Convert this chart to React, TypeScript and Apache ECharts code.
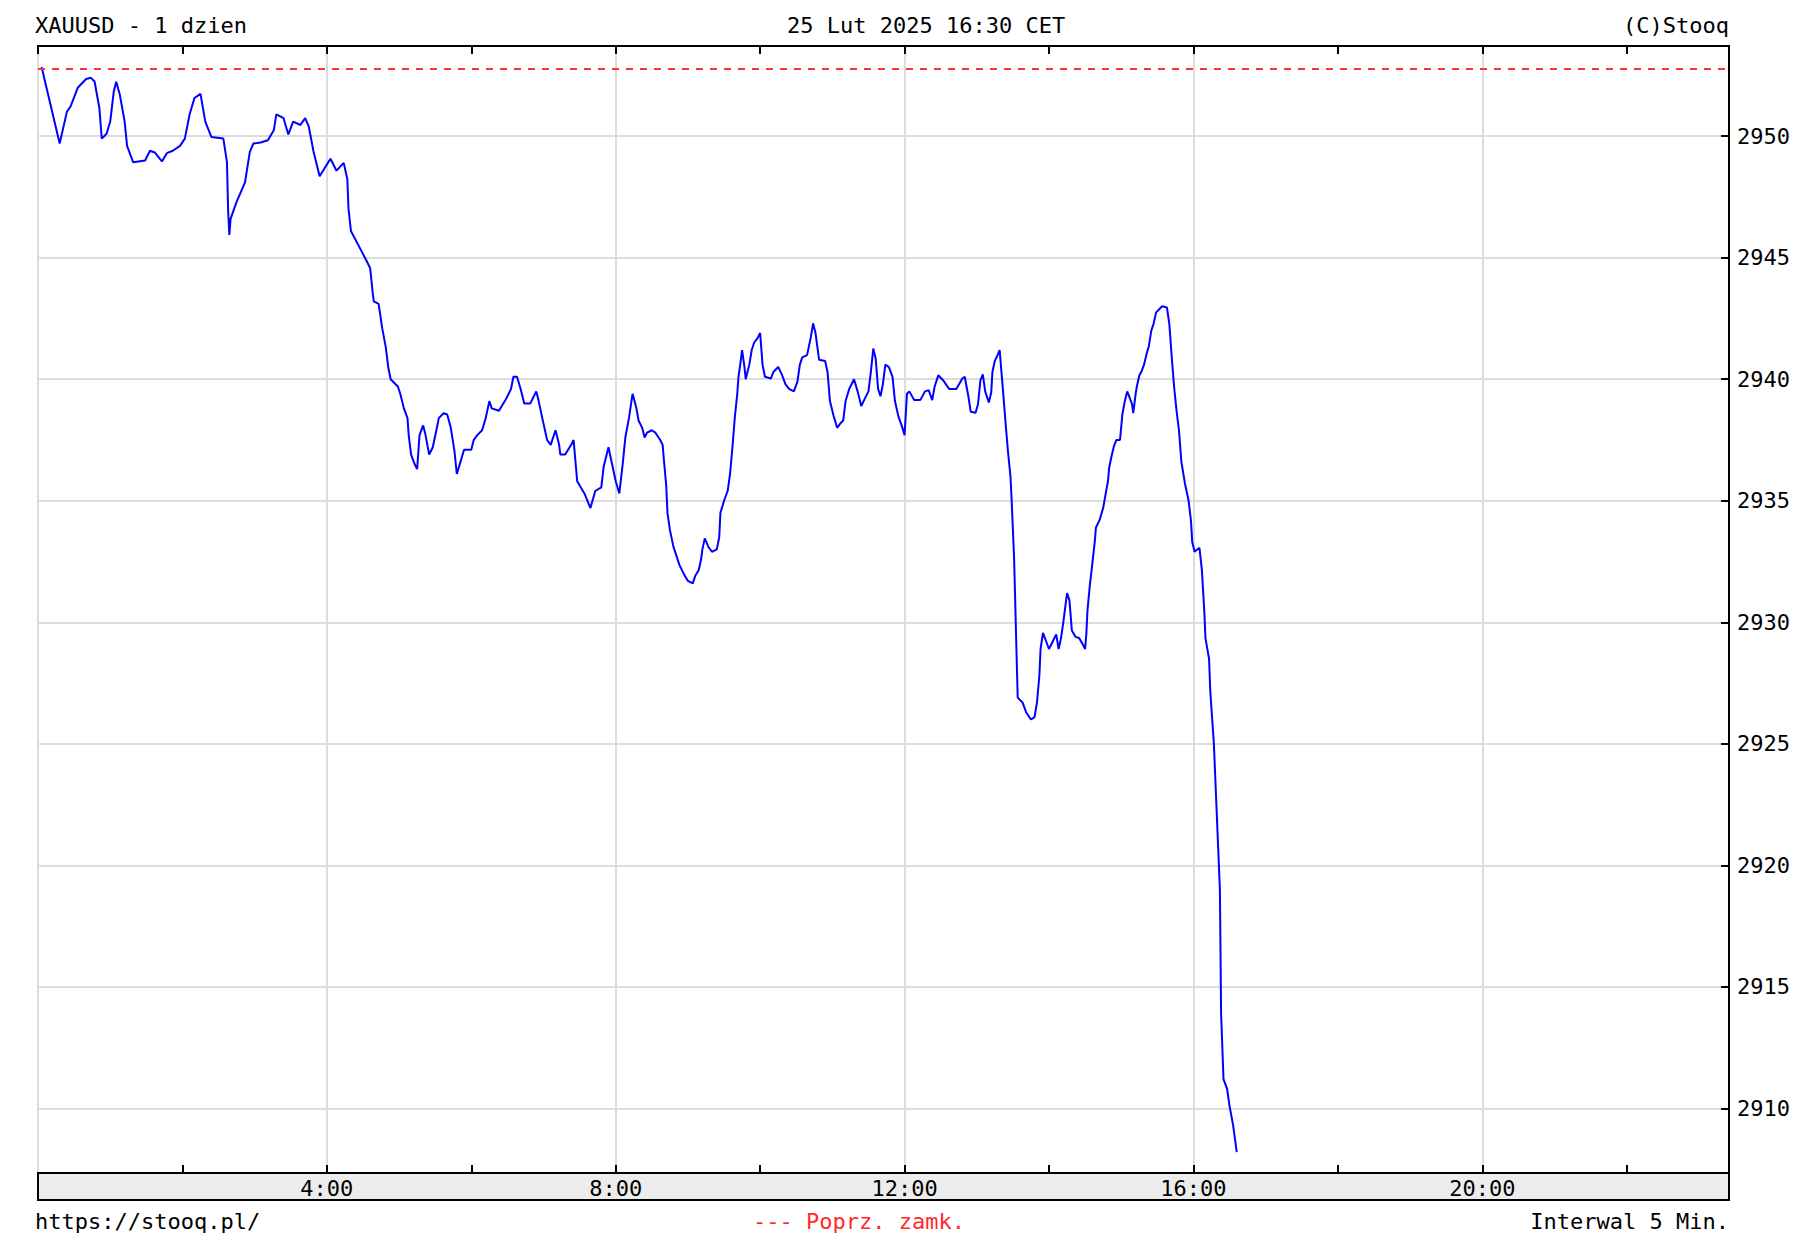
import React, { useEffect, useRef } from "react";
import * as echarts from "echarts";

// ---- data ----
const headerTitle = "XAUUSD - 1 dzien";
const headerDate = "25 Lut 2025 16:30 CET";
const headerCopy = "(C)Stooq";
const footerUrl = "https://stooq.pl/";
const footerLegend = "--- Poprz. zamk.";
const footerInterval = "Interwal 5 Min.";

const prevClose = 2952.76;

// minutes after 0:00
const priceMinutes = [
  3, 18, 24, 27, 33, 40, 44, 47, 51, 53, 57, 60, 63, 65, 68, 72, 74, 79, 89, 93,
  97, 103, 107, 112, 118, 122, 126, 130, 135, 139, 144, 154, 157, 158, 159, 160, 165, 172, 176, 179,
  185, 191, 196, 198, 204, 208, 212, 218, 222, 225, 229, 234, 243, 248, 254, 257, 258, 260, 269, 274,
  276, 278, 279, 283, 286, 289, 291, 293, 299, 301, 304, 307, 308, 310, 313, 315, 317, 320, 322, 325,
  328, 331, 333, 337, 340, 343, 346, 348, 351, 354, 360, 362, 365, 369, 372, 375, 377, 383, 389, 393,
  395, 398, 401, 404, 409, 414, 416, 419, 423, 426, 430, 433, 434, 438, 443, 445, 448, 454, 459, 463,
  468, 470, 474, 477, 480, 483, 486, 488, 491, 494, 497, 499, 502, 504, 506, 510, 513, 517, 519, 520,
  522, 523, 525, 528, 533, 537, 540, 544, 546, 549, 551, 552, 554, 557, 560, 564, 566, 567, 570, 573,
  575, 577, 579, 581, 582, 584, 585, 587, 588, 591, 593, 595, 598, 600, 602, 604, 609, 611, 615, 618,
  621, 624, 628, 631, 633, 635, 639, 642, 644, 646, 649, 654, 656, 658, 661, 664, 667, 669, 671, 674,
  678, 681, 684, 687, 690, 692, 694, 696, 698, 700, 702, 704, 707, 710, 712, 715, 718, 720, 722, 724,
  728, 733, 737, 740, 743, 745, 748, 752, 757, 763, 768, 770, 773, 775, 779, 781, 783, 785, 787, 790,
  792, 793, 795, 797, 799, 800, 802, 804, 806, 808, 809, 811, 813, 814, 818, 821, 825, 828, 830, 832,
  833, 835, 837, 840, 843, 846, 848, 850, 852, 855, 857, 859, 862, 865, 868, 870, 871, 872, 874, 876,
  878, 879, 882, 885, 887, 889, 890, 892, 894, 896, 899, 901, 903, 905, 907, 909, 910, 912, 913, 915,
  917, 919, 921, 923, 925, 927, 929, 932, 934, 938, 940, 942, 944, 946, 948, 950, 953, 956, 958, 959,
  961, 963, 965, 967, 969, 970, 973, 974, 977, 979, 982, 983, 985, 988, 990, 993, 996,
];

const priceValues = [
  2952.85, 2949.7, 2951.0, 2951.22, 2951.99, 2952.35, 2952.4, 2952.25, 2951.15, 2949.9, 2950.1, 2950.6, 2951.85, 2952.24, 2951.7, 2950.6, 2949.6, 2948.93, 2949.0, 2949.4,
  2949.33, 2948.96, 2949.3, 2949.4, 2949.6, 2949.9, 2950.9, 2951.57, 2951.74, 2950.6, 2949.97, 2949.9, 2948.93, 2946.9, 2945.94, 2946.6, 2947.3, 2948.1, 2949.35, 2949.7,
  2949.74, 2949.83, 2950.25, 2950.9, 2950.74, 2950.07, 2950.6, 2950.46, 2950.74, 2950.39, 2949.35, 2948.35, 2949.07, 2948.58, 2948.9, 2948.24, 2947.0, 2946.1, 2945.25, 2944.77,
  2944.56, 2943.6, 2943.2, 2943.1, 2942.1, 2941.3, 2940.5, 2940.0, 2939.7, 2939.4, 2938.8, 2938.4, 2937.7, 2936.9, 2936.5, 2936.3, 2937.7, 2938.1, 2937.7, 2936.9,
  2937.2, 2937.9, 2938.4, 2938.6, 2938.55, 2938.0, 2937.05, 2936.1, 2936.6, 2937.1, 2937.1, 2937.5, 2937.7, 2937.9, 2938.4, 2939.1, 2938.8, 2938.7, 2939.2, 2939.6,
  2940.1, 2940.1, 2939.6, 2939.0, 2939.0, 2939.5, 2939.1, 2938.4, 2937.5, 2937.3, 2937.9, 2937.3, 2936.9, 2936.9, 2937.3, 2937.5, 2935.8, 2935.3, 2934.7, 2935.4,
  2935.55, 2936.4, 2937.2, 2936.5, 2935.8, 2935.3, 2936.6, 2937.6, 2938.4, 2939.4, 2938.85, 2938.3, 2938.0, 2937.6, 2937.8, 2937.9, 2937.8, 2937.5, 2937.3, 2936.7,
  2935.6, 2934.5, 2933.8, 2933.1, 2932.35, 2931.95, 2931.7, 2931.6, 2931.9, 2932.15, 2932.6, 2933.0, 2933.45, 2933.1, 2932.9, 2933.0, 2933.5, 2934.5, 2935.0, 2935.4,
  2936.1, 2937.2, 2938.45, 2939.4, 2940.1, 2940.8, 2941.2, 2940.5, 2940.0, 2940.6, 2941.2, 2941.5, 2941.7, 2941.9, 2940.6, 2940.1, 2940.03, 2940.3, 2940.5, 2940.2,
  2939.8, 2939.6, 2939.5, 2939.9, 2940.6, 2940.9, 2940.99, 2941.7, 2942.3, 2941.9, 2940.8, 2940.75, 2940.3, 2939.1, 2938.5, 2938.0, 2938.2, 2938.3, 2939.1, 2939.6,
  2940.0, 2939.5, 2938.9, 2939.2, 2939.5, 2940.3, 2941.26, 2940.85, 2939.6, 2939.3, 2939.8, 2940.6, 2940.5, 2940.1, 2939.1, 2938.45, 2938.04, 2937.7, 2939.4, 2939.5,
  2939.14, 2939.14, 2939.5, 2939.55, 2939.14, 2939.7, 2940.16, 2939.96, 2939.6, 2939.6, 2940.03, 2940.1, 2939.3, 2938.66, 2938.62, 2938.97, 2939.95, 2940.2, 2939.5, 2939.04,
  2939.45, 2940.3, 2940.76, 2940.96, 2941.2, 2940.6, 2939.4, 2938.15, 2936.98, 2936.0, 2935.0, 2932.65, 2928.8, 2926.9, 2926.7, 2926.3, 2926.0, 2926.1, 2926.7, 2927.8,
  2928.9, 2929.56, 2929.3, 2928.9, 2929.2, 2929.5, 2928.9, 2929.35, 2930.04, 2931.2, 2930.9, 2929.66, 2929.4, 2929.35, 2929.1, 2928.9, 2929.5, 2930.5, 2931.55, 2932.4,
  2933.3, 2933.9, 2934.2, 2934.7, 2935.26, 2935.8, 2936.36, 2936.84, 2937.25, 2937.5, 2937.5, 2938.56, 2939.1, 2939.5, 2939.24, 2938.97, 2938.6, 2939.4, 2939.7, 2940.14,
  2940.34, 2940.6, 2941.03, 2941.37, 2942.0, 2942.3, 2942.75, 2942.9, 2943.0, 2942.95, 2942.27, 2940.9, 2939.66, 2938.7, 2937.9, 2936.6, 2935.7, 2935.0, 2934.16, 2933.3,
  2932.9, 2932.99, 2933.06, 2932.17, 2930.5, 2929.35, 2928.5, 2927.16, 2925.0, 2922.6, 2919.0, 2913.9, 2911.2, 2910.8, 2910.1, 2909.3, 2908.2,
];

const yTickValues = [2910, 2915, 2920, 2925, 2930, 2935, 2940, 2945, 2950];
const yMin = 2907.34;
const yMax = 2953.71;
const xMin = 0;
const xMax = 1405;
const xTickStep = 120;
const xGridStep = 240;

const FONT = '"DejaVu Sans Mono", "Liberation Mono", monospace';

export default function App() {
  const ref = useRef<HTMLDivElement>(null);

  useEffect(() => {
    if (!ref.current) return;
    const chart = echarts.init(ref.current, undefined, { renderer: "svg" });
    const data = priceMinutes.map((m, i) => [m, priceValues[i]]);

    const tickStyle = { color: "#000", width: 2 };
    const grid = { color: "#dcdcdc", width: 2 };

    const option: any = {
      animation: false,
      backgroundColor: "#ffffff",
      grid: {
        left: 38,
        right: 83,
        top: 46,
        bottom: 85,
        show: true,
        borderColor: "#000",
        borderWidth: 2,
        backgroundColor: "#ffffff",
      },
      xAxis: [
        {
          type: "value",
          position: "bottom",
          min: xMin,
          max: xMax,
          interval: xTickStep,
          z: 5,
          axisLine: { show: true, onZero: false, lineStyle: tickStyle },
          axisTick: { show: true, inside: true, length: 8, lineStyle: tickStyle },
          axisLabel: {
            show: true,
            margin: 4,
            fontFamily: FONT,
            fontSize: 22,
            color: "#000",
            showMinLabel: false,
            showMaxLabel: false,
            formatter: (v: number) =>
              v > 0 && v % xGridStep === 0 ? `${v / 60}:00` : "",
          },
          splitLine: { show: false },
        },
        {
          type: "value",
          position: "top",
          min: xMin,
          max: xMax,
          interval: xTickStep,
          axisLine: { show: false },
          axisTick: { show: true, inside: true, length: 8, lineStyle: tickStyle },
          axisLabel: { show: false },
          splitLine: { show: false },
        },
        {
          type: "value",
          position: "bottom",
          min: xMin,
          max: xMax,
          interval: xGridStep,
          axisLine: { show: false },
          axisTick: { show: false },
          axisLabel: { show: false },
          splitLine: { show: true, lineStyle: grid },
        },
      ],
      yAxis: {
        type: "value",
        position: "right",
        min: yMin,
        max: yMax,
        axisLine: { show: true, onZero: false, lineStyle: tickStyle },
        axisTick: {
          show: true,
          inside: true,
          length: 8,
          lineStyle: tickStyle,
          customValues: yTickValues,
        },
        axisLabel: {
          show: true,
          margin: 8,
          fontFamily: FONT,
          fontSize: 22,
          color: "#000",
          customValues: yTickValues,
          formatter: (v: number) => String(Math.round(v)),
        },
        splitLine: { show: true, lineStyle: grid },
      },
      series: [
        {
          type: "line",
          xAxisIndex: 0,
          yAxisIndex: 0,
          data,
          showSymbol: false,
          symbol: "none",
          z: 3,
          lineStyle: { color: "#0000ff", width: 2 },
          markLine: {
            silent: true,
            symbol: ["none", "none"],
            label: { show: false },
            lineStyle: { color: "#ff3333", type: [7, 7], width: 2 },
            data: [{ yAxis: prevClose }],
          },
        },
      ],
      graphic: [
        {
          type: "rect",
          z: 1,
          shape: { x: 38, y: 1173, width: 1691, height: 27 },
          style: { fill: "#ececec", stroke: "#000", lineWidth: 2 },
        },
        {
          type: "text",
          x: 35,
          y: 25,
          style: { text: headerTitle, font: `22px ${FONT}`, fill: "#000", verticalAlign: "middle", align: "left" },
        },
        {
          type: "text",
          x: 787,
          y: 25,
          style: { text: headerDate, font: `22px ${FONT}`, fill: "#000", verticalAlign: "middle", align: "left" },
        },
        {
          type: "text",
          x: 1729,
          y: 25,
          style: { text: headerCopy, font: `22px ${FONT}`, fill: "#000", verticalAlign: "middle", align: "right" },
        },
        {
          type: "text",
          x: 35,
          y: 1221,
          style: { text: footerUrl, font: `22px ${FONT}`, fill: "#000", verticalAlign: "middle", align: "left" },
        },
        {
          type: "text",
          x: 859,
          y: 1221,
          style: { text: footerLegend, font: `22px ${FONT}`, fill: "#ff2a2a", verticalAlign: "middle", align: "center" },
        },
        {
          type: "text",
          x: 1729,
          y: 1221,
          style: { text: footerInterval, font: `22px ${FONT}`, fill: "#000", verticalAlign: "middle", align: "right" },
        },
      ],
    };

    chart.setOption(option);
    return () => chart.dispose();
  }, []);

  return (
    <div
      ref={ref}
      style={{ position: "absolute", left: 0, top: 0, width: 1812, height: 1258, background: "#fff" }}
    />
  );
}
